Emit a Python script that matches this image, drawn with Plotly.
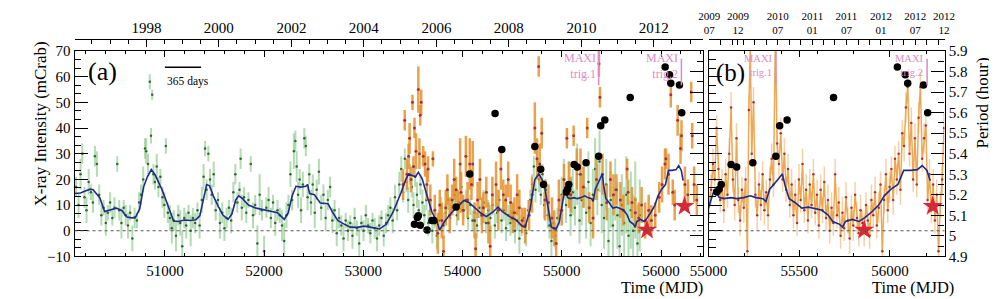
import plotly.graph_objects as go
from datetime import date

# ---------------- data ----------------
# RXTE/ASM-like green light curve (MJD, mCrab, error)
asm_mjd = [50105, 50130, 50150, 50168, 50190, 50210, 50232, 50255, 50275, 50295, 50315, 50338, 50360, 50382,
           50405, 50425, 50448, 50470, 50492, 50520, 50540, 50562, 50585, 50605, 50628, 50650, 50672, 50695,
           50718, 50740, 50760, 50782, 50800, 50812, 50830, 50848, 50860, 50872, 50885, 50900, 50918, 50935,
           50955, 50975, 50995, 51010, 51030, 51050, 51070, 51090, 51112, 51135, 51155, 51175, 51195, 51215,
           51238, 51260, 51282, 51305, 51328, 51350, 51372, 51390, 51405, 51420, 51438, 51455, 51472, 51492,
           51512, 51535, 51555, 51578, 51600, 51622, 51645, 51668, 51690, 51710, 51730, 51752, 51763, 51775,
           51798, 51820, 51842, 51865, 51888, 51910, 51932, 51955, 51978, 52000, 52022, 52045, 52068, 52090,
           52112, 52135, 52158, 52180, 52202, 52225, 52245, 52265, 52282, 52300, 52315, 52328, 52342, 52358,
           52372, 52390, 52405, 52420, 52438, 52455, 52472, 52490, 52510, 52530, 52552, 52575, 52598, 52620,
           52642, 52665, 52688, 52710, 52732, 52755, 52778, 52800, 52822, 52845, 52868, 52890, 52912, 52935,
           52958, 52980, 53002, 53025, 53048, 53070, 53092, 53115, 53138, 53160, 53182, 53205, 53228, 53250,
           53272, 53295, 53318, 53340, 53362, 53382, 53400, 53418, 53435, 53452, 53470, 53488, 53505, 53522,
           53540, 53558, 53575, 53595, 53615, 53635, 53655, 53675, 53695, 53718, 53740, 53762, 53785, 53808,
           53830, 53852, 53875, 53898, 53920, 53942, 53965, 53988, 54010, 54032, 54055, 54078, 54100, 54122,
           54145, 54168, 54190, 54212, 54235, 54258, 54280, 54302, 54325, 54348, 54370, 54392, 54415, 54438,
           54460, 54482, 54505, 54528, 54550, 54572, 54595, 54618, 54640, 54662, 54682, 54700, 54718, 54735,
           54752, 54770, 54788, 54805, 54822, 54840, 54858, 54875, 54895, 54915, 54935, 54955, 54975, 54998,
           55020, 55042, 55065, 55088, 55110, 55132, 55155, 55178, 55200, 55222, 55245, 55268, 55290, 55312,
           55335, 55358, 55380, 55402, 55425, 55448, 55470, 55492, 55515, 55538, 55560, 55582, 55605, 55628,
           55650, 55672, 55695, 55718, 55740, 55762, 55785]
asm_flux = [17, 10, 22, 30, 13, 8, 19, 15, 11, 29, 26, 14, 6, 9,
            3, 7, 11, 5, 9, 26, 8, 3, 9, 6, 2, 7, -3, 5,
            4, 11, 14, 20, 32, 31, 26, 58, 37, 53, 22, 19, 25, 17,
            21, 13, 10, 33, 7, 5, 1, 4, -2, 6, 3, -6, 5, 2,
            7, 0, 5, 3, 8, 2, 12, 21, 32, 16, 30, 20, 14, 22,
            8, 12, 3, 7, 1, 5, 9, 4, 15, 22, 11, 16, 28, 9,
            13, 7, 12, 26, 6, 10, -5, 14, 8, -8, 9, 12, 5, 11,
            3, 8, 6, 2, -4, 6, 10, 22, 12, 31, 35, 25, 14, 20,
            8, 18, 36, 33, 13, 22, 11, 18, 7, 16, 23, 9, 14, 5,
            12, 17, 4, 8, -1, 5, 2, -3, 4, 0, 3, -2, 5, 1,
            -5, 3, 0, 6, 2, -1, 4, 1, -3, 2, 5, -2, 3, 6,
            9, 4, 13, 8, 18, 24, 15, 28, 19, 12, 22, 17, 10, 21,
            14, 8, 18, 11, 6, 12, 3, 8, 0, 5, -2, 4, 9, 2,
            7, 12, 5, 9, 14, 6, 11, 17, 8, 12, 5, 10, 4, 7,
            2, 9, 6, 11, 3, 8, 5, 10, 2, 7, 12, 4, 8, 1,
            6, 3, 7, 0, 4, -3, 2, 5, -1, 8, 12, 18, 25, 16,
            27, 20, 14, 22, 10, 16, 6, 2, -4, 3, -2, 5, 8, 14,
            20, 10, 18, 6, 15, 9, 22, 4, 12, 17, 7, 19, 3, 14,
            24, 16, 27, 10, 5, 18, -4, 12, 2, 16, 6, -6, 10, 3,
            14, -2, 8, 0, 12, -5, 6]
asm_err = [4, 5, 6, 4, 4, 5, 5, 3, 4, 4, 5, 4, 4, 3,
           5, 3, 4, 3, 4, 3, 4, 6, 3, 4, 5, 3, 5, 4,
           3, 4, 4, 5, 4, 5, 4, 3, 3, 2, 4, 3, 5, 4,
           3, 4, 5, 3, 4, 5, 6, 4, 6, 4, 5, 6, 4, 5,
           3, 6, 4, 4, 3, 5, 5, 5, 3, 4, 3, 4, 4, 5,
           4, 3, 6, 4, 5, 4, 3, 5, 4, 4, 4, 3, 4, 5,
           4, 4, 3, 3, 5, 4, 7, 8, 4, 6, 4, 5, 4, 3,
           5, 4, 3, 6, 7, 5, 4, 5, 4, 7, 4, 6, 5, 4,
           5, 5, 4, 4, 5, 4, 5, 4, 6, 4, 5, 5, 4, 5,
           4, 4, 5, 4, 5, 4, 4, 5, 3, 4, 3, 5, 4, 3,
           6, 3, 4, 4, 3, 4, 3, 4, 5, 4, 3, 4, 4, 4,
           4, 5, 5, 4, 5, 5, 4, 4, 4, 5, 4, 4, 5, 4,
           5, 4, 4, 5, 4, 4, 5, 4, 5, 4, 5, 4, 4, 5,
           4, 4, 5, 3, 4, 4, 4, 5, 4, 4, 5, 4, 4, 4,
           5, 4, 4, 5, 4, 4, 5, 4, 5, 4, 4, 5, 4, 5,
           4, 5, 4, 5, 4, 6, 4, 4, 5, 4, 4, 4, 4, 5,
           4, 5, 4, 4, 5, 4, 5, 5, 6, 4, 5, 4, 6, 7,
           8, 7, 9, 8, 9, 7, 12, 9, 10, 8, 10, 12, 9, 10,
           12, 10, 12, 11, 12, 10, 13, 11, 12, 12, 13, 14, 12, 14,
           15, 14, 15, 14, 15, 15, 14]

# Swift/BAT-like orange light curve, coarse bins (panel a)
bat_mjd = [53400, 53417, 53440, 53456, 53466, 53480, 53495, 53505, 53515, 53530, 53554, 53565, 53573, 53583,
           53603, 53622, 53640, 53652, 53675, 53701, 53720, 53750, 53770, 53790, 53808, 53830, 53847, 53870,
           53895, 53915, 53935, 53955, 53975, 53984, 54005, 54033, 54050, 54072, 54090, 54102, 54120, 54131,
           54151, 54175, 54195, 54210, 54239, 54260, 54278, 54300, 54337, 54360, 54386, 54410, 54435, 54460,
           54484, 54505, 54523, 54550, 54572, 54601, 54630, 54670, 54700, 54728, 54750, 54767, 54777, 54797,
           54830, 54865, 54900, 54924, 54943, 54970, 55000, 55022, 55051, 55075, 55090, 55119, 55150, 55188,
           55217, 55256, 55276, 55315, 55350, 55374, 55384, 55410, 55452, 55490, 55520, 55550, 55590, 55620,
           55658, 55668, 55707, 55740, 55775, 55804, 55840, 55875, 55902, 55941, 55981, 56010, 56039, 56049,
           56075, 56098, 56118, 56137, 56167, 56196, 56206, 56240, 56270, 56304, 56314, 56333, 56360]
bat_flux = [18, 43, 22, 29, 36, 20, 50, 25, 40, 31, 55, 30, 45, 50,
            29, 26, 18, 24, 12, 28, 8, -1, 10, 4, -8, 9, 16, 6,
            12, 20, 16, 10, 26, 15, 8, 29, 12, 26, 18, 26, 4, -7,
            12, 20, 6, 9, 15, 3, -6, 14, 18, 8, 24, 14, 12, 20,
            11, 5, 7, 14, 9, 4, 2, 6, 14, 40, 28, 64, 26, 38,
            12, 11, 5, 1, -5, 12, 8, 20, 36, 18, 14, 37, 24, 22,
            17, 40, 9, 5, 20, 65, 52, 22, 11, 20, 14, 16, 12, 8,
            24, 15, 11, 7, 5, 10, 4, 8, 4, 6, 13, 18, 26, 28,
            22, 53, 15, 10, 43, 32, 37, 18, 14, 54, 37, 18, 12]
bat_err = [6, 4, 6, 5, 6, 5, 3, 4, 4, 7, 9, 6, 4, 5,
           4, 5, 6, 5, 6, 3, 6, 8, 6, 7, 6, 7, 6, 7,
           6, 8, 5, 6, 10, 8, 6, 8, 7, 10, 6, 9, 7, 6,
           7, 8, 7, 6, 6, 8, 8, 7, 9, 8, 8, 6, 6, 7,
           7, 6, 6, 8, 7, 5, 7, 6, 7, 10, 8, 4, 8, 6,
           8, 7, 8, 7, 6, 8, 6, 6, 4, 9, 7, 4, 8, 10,
           8, 4, 6, 8, 8, 5, 4, 8, 7, 7, 8, 6, 7, 6,
           4, 5, 6, 6, 6, 7, 7, 6, 6, 5, 6, 7, 6, 4,
           8, 5, 5, 6, 6, 6, 6, 7, 6, 4, 5, 7, 6]

# Orange light curve, fine bins (panel b)
batfine_mjd = [55004, 55014, 55024, 55034, 55044, 55054, 55064, 55074, 55084, 55094, 55104, 55114, 55124, 55134,
               55144, 55154, 55164, 55174, 55184, 55194, 55204, 55214, 55222, 55230, 55238, 55248, 55258, 55268,
               55278, 55288, 55298, 55308, 55318, 55328, 55338, 55348, 55358, 55368, 55378, 55388, 55398, 55408,
               55418, 55428, 55438, 55448, 55458, 55468, 55478, 55488, 55498, 55508, 55518, 55528, 55538, 55548,
               55558, 55568, 55578, 55588, 55598, 55608, 55618, 55628, 55638, 55648, 55658, 55668, 55678, 55688,
               55698, 55708, 55718, 55728, 55738, 55748, 55758, 55768, 55778, 55788, 55798, 55808, 55818, 55828,
               55838, 55848, 55858, 55868, 55878, 55888, 55898, 55908, 55918, 55928, 55938, 55948, 55958, 55968,
               55978, 55988, 55998, 56008, 56018, 56028, 56038, 56048, 56058, 56068, 56078, 56088, 56098, 56108,
               56118, 56128, 56138, 56148, 56158, 56168, 56178, 56188, 56198, 56208, 56218, 56228, 56238, 56248,
               56258, 56268, 56278, 56288, 56298]
batfine_flux = [10, 16, 26, 20, 40, 24, 12, 18, 8, 22, 14, 30, 48, 20,
                10, 36, 12, 4, 16, 9, 20, -8, 47, 72, 30, 50, 14, 6,
                18, 10, 22, 8, 15, 6, 20, 28, 18, 76, 34, 26, 38, 20,
                30, 16, 24, 10, 18, 6, 14, 3, 20, 12, 26, 8, 16, 4,
                18, 10, 22, 7, 14, 2, 16, 8, 19, 5, 12, 0, 9, 3,
                22, 6, 11, -2, 7, 1, 13, 4, -3, 9, 2, 14, 5, -1,
                8, 3, 0, 10, 4, -2, 12, 6, 15, 2, 9, 18, -8, 12,
                22, 8, 17, 24, 12, 28, 20, 30, 16, 38, 33, 48, 56, 30,
                42, 20, 36, 18, 44, 56, 28, 36, 41, 12, 22, 8, 18, 4,
                14, -8, 10, 20, 40]
batfine_err = [5, 6, 6, 5, 5, 6, 5, 6, 5, 6, 5, 6, 6, 5,
               6, 6, 5, 6, 5, 6, 5, 6, 6, 6, 5, 6, 5, 6,
               5, 6, 5, 6, 5, 6, 5, 6, 5, 6, 6, 5, 6, 5,
               6, 5, 6, 5, 6, 5, 6, 5, 6, 5, 6, 5, 6, 5,
               6, 5, 6, 5, 6, 5, 6, 5, 6, 5, 6, 5, 6, 5,
               6, 5, 6, 5, 6, 5, 6, 5, 6, 5, 6, 5, 6, 5,
               6, 5, 6, 5, 6, 5, 6, 5, 6, 5, 6, 5, 6, 5,
               6, 5, 6, 5, 6, 5, 6, 5, 6, 5, 6, 6, 6, 5,
               6, 5, 6, 5, 6, 6, 5, 6, 6, 5, 6, 5, 6, 5,
               6, 6, 5, 6, 6]

# Running average (blue line)
avg_mjd = [50090, 50149, 50198, 50247, 50276, 50344, 50393, 50452, 50511, 50569, 50618, 50667, 50706, 50746,
           50785, 50824, 50863, 50902, 50941, 50971, 51010, 51049, 51088, 51137, 51196, 51254, 51313, 51352,
           51382, 51421, 51450, 51489, 51538, 51587, 51636, 51675, 51714, 51744, 51783, 51842, 51920, 51998,
           52076, 52135, 52174, 52203, 52243, 52282, 52321, 52370, 52419, 52438, 52458, 52507, 52566, 52644,
           52693, 52742, 52810, 52869, 52938, 53006, 53094, 53163, 53231, 53300, 53378, 53427, 53456, 53525,
           53554, 53593, 53642, 53691, 53740, 53769, 53818, 53887, 53945, 54014, 54063, 54112, 54180, 54239,
           54307, 54356, 54405, 54474, 54532, 54601, 54630, 54679, 54728, 54767, 54797, 54826, 54865, 54894,
           54943, 54975, 55010, 55032, 55059, 55086, 55123, 55155, 55193, 55230, 55262, 55300, 55316, 55337,
           55364, 55391, 55407, 55423, 55444, 55476, 55514, 55551, 55583, 55621, 55658, 55685, 55723, 55739,
           55755, 55792, 55830, 55862, 55899, 55937, 55969, 56006, 56044, 56076, 56113, 56151, 56178, 56204,
           56222]
avg_flux = [14.5, 14.7, 15.5, 16.2, 16.0, 12.9, 7.5, 8.2, 8.8, 7.8, 5.3, 5.0, 5.4, 8.5,
            17.0, 21.0, 23.8, 21.7, 18.5, 16.0, 12.0, 7.5, 3.8, 3.6, 4.2, 4.0, 4.3, 5.8,
            11.0, 18.0, 17.5, 13.5, 9.5, 6.0, 4.4, 6.5, 12.0, 13.6, 12.5, 10.0, 8.8, 8.1,
            7.5, 7.0, 5.5, 4.4, 7.0, 13.5, 17.3, 17.0, 17.3, 18.0, 14.5, 14.0, 10.8, 10.5,
            7.0, 4.0, 2.5, 1.4, 1.3, 1.8, 1.2, 0.7, 2.5, 7.3, 14.7, 19.9, 22.1, 21.0,
            22.8, 20.2, 13.6, 7.3, 3.6, 0.3, 3.6, 7.0, 9.2, 11.8, 11.0, 9.2, 7.0, 5.5,
            7.3, 9.2, 7.3, 5.5, 4.4, 1.8, 1.4, 8.1, 19.9, 22.1, 20.2, 17.3, 7.3, 1.4,
            0.7, 3.5, 11.5, 16.2, 12.9, 12.5, 12.9, 12.5, 12.9, 13.6, 12.9, 12.5, 11.4, 16.2,
            18.4, 21.0, 22.1, 17.3, 12.5, 11.0, 8.8, 9.2, 8.8, 8.1, 6.2, 3.6, 2.5, 1.4,
            3.6, 4.4, 3.6, 5.1, 7.3, 9.9, 13.6, 16.2, 18.0, 23.5, 23.5, 23.8, 25.4, 23.5,
            19.5]

# Spin period measurements (black dots, right axis)
period_mjd = [53515, 53544, 53554, 53573, 53642, 53691, 53711, 53935, 54072, 54327, 54395, 54728, 54787, 54816,
              55045, 55058, 55070, 55124, 55155, 55244, 55371, 55392, 55433, 55689, 56041, 56085, 56098, 56185,
              56208]
period_hour = [5.057, 5.089, 5.098, 5.052, 5.029, 5.075, 5.075, 5.140, 5.301, 5.596, 5.421, 5.435, 5.324, 5.250,
               5.213, 5.227, 5.250, 5.347, 5.335, 5.356, 5.388, 5.536, 5.564, 5.674, 5.822, 5.785, 5.743, 5.734,
               5.600]

# Red stars
star_mjd = [55858, 56236]
star_flux = [0.3, 9.5]

# MAXI triggers
maxi_trig_mjd = [55371, 56205]
maxi_trig_top = [70, 67]
maxi_trig_bottom = [56.7, 56.7]
maxi_trig_text = ["MAXI<br>trig.1", "MAXI<br>trig.2"]

# Top axis labels
year_labels = [1998, 2000, 2002, 2004, 2006, 2008, 2010, 2012]
b_top_dates = ["2009-07-01", "2009-12-01", "2010-07-01", "2011-01-01",
               "2011-07-01", "2012-01-01", "2012-07-01", "2012-12-01"]
b_top_labels = ["2009<br>07", "2009<br>12", "2010<br>07", "2011<br>01",
                "2011<br>07", "2012<br>01", "2012<br>07", "2012<br>12"]

scale_bar_start = 51000
scale_bar_days = 365

# ---------------- helpers ----------------
MJD0 = date(1858, 11, 17)


def to_mjd(y, m, d=1):
    return (date(y, m, d) - MJD0).days


W, H = 997, 299
FONT = "Liberation Serif, Times New Roman, serif"

A_X = [49 / W, 696 / W]
B_X = [702 / W, 945 / W]
Y_DOM = [1 - 254 / H, 1 - 37 / H]
TOP_POS = 1 - 24 / H

A_RANGE = [50090, 56420]
B_RANGE = [55000, 56301]
I_RANGE = [-10, 70]
P_RANGE = [4.9, 5.9]

year_major = [to_mjd(y, 1) for y in year_labels]
year_minor = [to_mjd(y, m) for y in range(1996, 2014) for m in (1, 7)]
year_minor = [v for v in year_minor if A_RANGE[0] <= v <= A_RANGE[1]]

green_bar = "rgba(130,195,130,0.6)"
green_dot = "#2c6a2c"
orange_bar = "rgba(232,145,45,0.85)"
orange_dot = "#a8323c"
blue = "#1d2b8c"
pink = "#dc8cc0"
star_red = "#d62839"

fig = go.Figure()

# ---- panel a ----
fig.add_trace(go.Scatter(
    x=asm_mjd, y=asm_flux, mode="markers",
    error_y=dict(type="data", array=asm_err, color=green_bar, thickness=2, width=0),
    marker=dict(size=2.5, color=green_dot), xaxis="x", yaxis="y"))
fig.add_trace(go.Scatter(
    x=bat_mjd, y=bat_flux, mode="markers",
    error_y=dict(type="data", array=bat_err, color=orange_bar, thickness=2.5, width=0),
    marker=dict(size=3, color=orange_dot), xaxis="x", yaxis="y"))
fig.add_trace(go.Scatter(
    x=avg_mjd, y=avg_flux, mode="lines", line=dict(color=blue, width=1.6),
    xaxis="x", yaxis="y"))
fig.add_trace(go.Scatter(
    x=period_mjd, y=period_hour, mode="markers",
    marker=dict(size=7.5, color="black"), xaxis="x", yaxis="y2"))
fig.add_trace(go.Scatter(
    x=star_mjd, y=star_flux, mode="markers",
    marker=dict(symbol="star", size=15, color=star_red), xaxis="x", yaxis="y"))
# top year axis carrier
fig.add_trace(go.Scatter(x=[A_RANGE[0]], y=[None], mode="markers", xaxis="x3", yaxis="y",
                         hoverinfo="skip"))

# ---- panel b ----
fig.add_trace(go.Scatter(
    x=batfine_mjd, y=batfine_flux, mode="lines+markers",
    line=dict(color="rgba(236,160,70,0.9)", width=1.5),
    error_y=dict(type="data", array=batfine_err, color="rgba(240,185,120,0.65)", thickness=1.5, width=0),
    marker=dict(size=2.5, color=orange_dot), xaxis="x2", yaxis="y3"))
fig.add_trace(go.Scatter(
    x=avg_mjd, y=avg_flux, mode="lines", line=dict(color=blue, width=1.6),
    xaxis="x2", yaxis="y3"))
fig.add_trace(go.Scatter(
    x=period_mjd, y=period_hour, mode="markers",
    marker=dict(size=7.5, color="black"), xaxis="x2", yaxis="y4"))
fig.add_trace(go.Scatter(
    x=star_mjd, y=star_flux, mode="markers",
    marker=dict(symbol="star", size=15, color=star_red), xaxis="x2", yaxis="y3"))
fig.add_trace(go.Scatter(x=[b_top_dates[2]], y=[None], mode="markers", xaxis="x4", yaxis="y3",
                         hoverinfo="skip"))

tickfont = dict(family=FONT, size=15, color="black")
common = dict(showgrid=False, zeroline=False, showline=True, linecolor="black", linewidth=1.3,
              tickcolor="black", tickfont=tickfont)

fig.update_layout(
    width=W, height=H, margin=dict(l=0, r=0, t=0, b=0),
    paper_bgcolor="white", plot_bgcolor="white", showlegend=False,
    font=dict(family=FONT, color="black"),
    xaxis=dict(domain=A_X, range=A_RANGE, anchor="y", dtick=1000, tick0=50000, tickformat="d",
               ticks="inside", ticklen=6, mirror="ticks",
               minor=dict(dtick=200, tick0=50000, ticks="inside", ticklen=3, tickcolor="black"),
               **common),
    yaxis=dict(domain=Y_DOM, range=I_RANGE, anchor="x", dtick=10, tick0=0,
               ticks="inside", ticklen=13,
               minor=dict(dtick=10 / 3, tick0=-10, ticks="inside", ticklen=6, tickcolor="black"),
               **common),
    yaxis2=dict(range=P_RANGE, overlaying="y", side="right", anchor="x", dtick=0.1,
                ticks="inside", ticklen=13, showticklabels=False,
                minor=dict(dtick=0.05, ticks="inside", ticklen=6, tickcolor="black"),
                **common),
    xaxis3=dict(range=A_RANGE, overlaying="x", side="top", anchor="free", position=TOP_POS,
                tickmode="array", tickvals=year_major, ticktext=[str(y) for y in year_labels],
                ticks="inside", ticklen=7,
                minor=dict(tickmode="array", tickvals=year_minor, ticks="inside", ticklen=4,
                           tickcolor="black"),
                **common),
    xaxis2=dict(domain=B_X, range=B_RANGE, anchor="y3", dtick=500, tick0=55000, tickformat="d",
                ticks="inside", ticklen=6, mirror="ticks",
                minor=dict(dtick=200, tick0=55000, ticks="inside", ticklen=3, tickcolor="black"),
                **common),
    yaxis3=dict(domain=Y_DOM, range=I_RANGE, anchor="x2", dtick=10, tick0=0,
                ticks="inside", ticklen=13, showticklabels=False,
                minor=dict(dtick=10 / 3, tick0=-10, ticks="inside", ticklen=7, tickcolor="black"),
                **common),
    yaxis4=dict(range=P_RANGE, overlaying="y3", side="right", anchor="x2", dtick=0.1, tick0=4.9,
                ticks="inside", ticklen=13,
                minor=dict(dtick=0.05, ticks="inside", ticklen=6, tickcolor="black"),
                **common),
    xaxis4=dict(type="date", range=["2009-06-28", "2012-12-04"], overlaying="x2", side="top",
                anchor="free", position=TOP_POS,
                tickmode="array", tickvals=b_top_dates, ticktext=b_top_labels,
                ticks="inside", ticklen=5,
                minor=dict(dtick="M2", tick0="2009-07-01", ticks="inside", ticklen=5, tickcolor="black"),
                showgrid=False, zeroline=False, showline=True, linecolor="black", linewidth=1.3,
                tickcolor="black", tickfont=dict(family=FONT, size=11, color="black")),
)

shapes = []
# zero lines
for xr, yr in (("x domain", "y"), ("x2 domain", "y3")):
    shapes.append(dict(type="line", xref=xr, yref=yr, x0=0, x1=1, y0=0, y1=0,
                       line=dict(color="#555555", width=1.2, dash="dot")))
# MAXI trigger lines
for xr, yr in (("x", "y"), ("x2", "y3")):
    for t, y0, y1 in zip(maxi_trig_mjd, maxi_trig_bottom, maxi_trig_top):
        shapes.append(dict(type="line", xref=xr, yref=yr, x0=t, x1=t, y0=y0, y1=y1,
                           line=dict(color=pink, width=1.5)))
# 365-day scale bar
shapes.append(dict(type="line", xref="x", yref="y", x0=scale_bar_start,
                   x1=scale_bar_start + scale_bar_days, y0=63.7, y1=63.7,
                   line=dict(color="black", width=1.5)))
fig.update_layout(shapes=shapes)

ann = []
for xr, yr, fs in (("x", "y", 12), ("x2", "y3", 10.5)):
    for t, txt in zip(maxi_trig_mjd, maxi_trig_text):
        ann.append(dict(x=t, y=64.3, xref=xr, yref=yr, text=txt, showarrow=False,
                        xanchor="right", yanchor="middle", align="right", xshift=-1,
                        font=dict(family=FONT, size=fs, color=pink)))
ann.append(dict(x=scale_bar_start, y=58.3, xref="x", yref="y", text=f"{scale_bar_days} days",
                showarrow=False, xanchor="left", yanchor="middle",
                font=dict(family=FONT, size=11.5, color="black")))
ann.append(dict(x=78 / W, y=1 - 59 / H, xref="paper", yref="paper", text="(a)", showarrow=False,
                xanchor="center", yanchor="middle", font=dict(family=FONT, size=26, color="black")))
ann.append(dict(x=725 / W, y=1 - 60 / H, xref="paper", yref="paper", text="(b)", showarrow=False,
                xanchor="center", yanchor="middle", font=dict(family=FONT, size=25, color="black")))
ann.append(dict(x=14 / W, y=1 - 114 / H, xref="paper", yref="paper", text="X-ray Intensity (mCrab)",
                showarrow=False, textangle=-90, xanchor="center", yanchor="middle",
                font=dict(family=FONT, size=17, color="black")))
ann.append(dict(x=984 / W, y=1 - 92 / H, xref="paper", yref="paper", text="Period (hour)",
                showarrow=False, textangle=-90, xanchor="center", yanchor="middle",
                font=dict(family=FONT, size=17, color="black")))
ann.append(dict(x=698 / W, y=1 - 287 / H, xref="paper", yref="paper", text="Time (MJD)",
                showarrow=False, xanchor="right", yanchor="middle",
                font=dict(family=FONT, size=16.5, color="black")))
ann.append(dict(x=957 / W, y=1 - 287 / H, xref="paper", yref="paper", text="Time (MJD)",
                showarrow=False, xanchor="right", yanchor="middle",
                font=dict(family=FONT, size=16.5, color="black")))
fig.update_layout(annotations=ann)

fig.write_html("out.html")
